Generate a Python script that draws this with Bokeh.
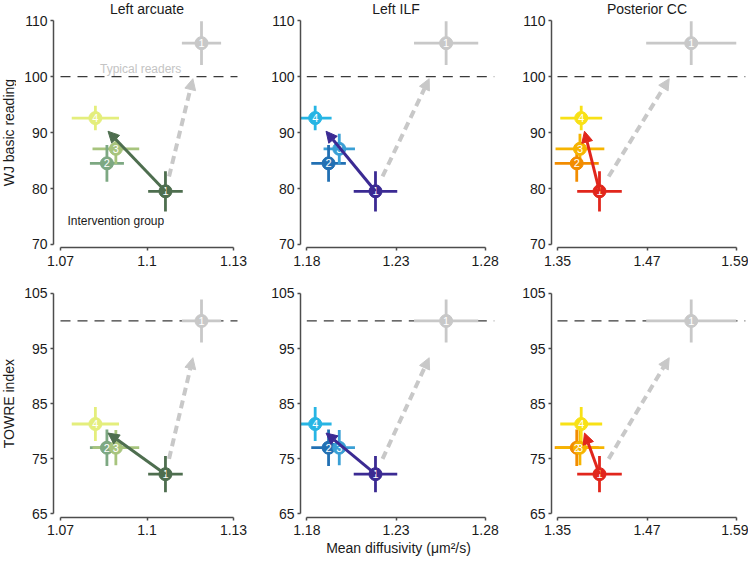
from bokeh.plotting import figure
from bokeh.layouts import column, row
from bokeh.models import Range1d, FixedTicker, Arrow, NormalHead, Label, ColumnDataSource
from bokeh.core.properties import value
from bokeh.embed import file_html
from bokeh.resources import INLINE

# ---------------- data ----------------
tracts = ["Left arcuate", "Left ILF", "Posterior CC"]
measures = ["WJ basic reading", "TOWRE index"]
sessions = ["1", "2", "3", "4"]

# mean diffusivity per session (intervention group) and its error
md_arcuate = [1.1064, 1.0861, 1.0892, 1.0821]
md_arcuate_err = [0.0060, 0.0059, 0.0081, 0.0082]
md_ilf = [1.2185, 1.1922, 1.1982, 1.1847]
md_ilf_err = [0.0122, 0.0097, 0.0088, 0.0092]
md_cc = [1.4063, 1.3758, 1.3801, 1.3818]
md_cc_err = [0.0299, 0.0295, 0.0327, 0.0281]

# typical readers (session 1)
typical_md = [1.1189, 1.2581, 1.5293]
typical_md_err = [0.0068, 0.0180, 0.0604]

# reading scores per session
wj = [79.5, 84.5, 87.1, 92.6]
wj_err = [3.6, 3.3, 2.7, 2.2]
towre = [72.2, 77.0, 77.0, 81.3]
towre_err = [3.3, 3.3, 3.2, 3.1]
typical_score = [106.0, 100.0]
typical_score_err = [3.9, 3.9]
norm_score = 100

x_ticks = [[1.07, 1.10, 1.13], [1.18, 1.23, 1.28], [1.35, 1.47, 1.59]]
x_tick_labels = [["1.07", "1.1", "1.13"], ["1.18", "1.23", "1.28"], ["1.35", "1.47", "1.59"]]
y_ticks = [[70, 80, 90, 100, 110], [65, 75, 85, 95, 105]]

md_vals = [md_arcuate, md_ilf, md_cc]
md_errs = [md_arcuate_err, md_ilf_err, md_cc_err]
scores = [wj, towre]
score_errs = [wj_err, towre_err]

# ---------------- style ----------------
colors = [
    ["#4e6e4f", "#7da882", "#a7c47d", "#e4ee7c"],
    ["#3b2a93", "#2270b3", "#3a9fd5", "#27b5e4"],
    ["#e1261c", "#f28c00", "#f6b400", "#f8e116"],
]
typical_color = "#c8c8c8"
FONT = "Liberation Sans"
FONT_VALUE = value(FONT)
axis_color = "#4d4d4d"
text_color = "#1a1a1a"

# layout in screenshot pixels
label_canvas_x = (2, 18)
ylabel_center_x = 10
canvas_x = [(18, 256), (256, 504), (504, 750)]
frame_x = [(55, 240), (302, 498), (553, 749)]
x_anchor = [(1.07, 62.0, 1.13, 235.0), (1.18, 308.3, 1.28, 486.7), (1.35, 559.0, 1.59, 738.0)]
canvas_y = [(1, 272), (272, 559)]
frame_y = [(1, 248), (272, 519)]
y_anchor = [(110, 21.3, 80, 189.0), (105, 294.0, 75, 460.0)]


def x_range_for(c):
    v0, p0, v1, p1 = x_anchor[c]
    s = (p1 - p0) / (v1 - v0)
    lo, hi = frame_x[c]
    return v0 - (p0 - lo) / s, v1 + (hi - p1) / s


def y_range_for(r):
    vt, pt, vb, pb = y_anchor[r]
    s = (pb - pt) / (vt - vb)
    top, bot = frame_y[r]
    return vb - (bot - pb) / s, vt + (pt - top) / s


def make_ylabel(r):
    ys, ye = y_range_for(r)
    lx0, lx1 = label_canvas_x
    cy0, cy1 = canvas_y[r]
    fy0, fy1 = frame_y[r]
    p = figure(width=lx1 - lx0, height=cy1 - cy0,
               x_range=Range1d(0, lx1 - lx0), y_range=Range1d(ys, ye),
               x_axis_location=None, y_axis_location=None,
               output_backend="svg", toolbar_location=None,
               min_border_left=0, min_border_right=0,
               min_border_top=fy0 - cy0, min_border_bottom=cy1 - fy1)
    p.outline_line_color = None
    p.xgrid.visible = False
    p.ygrid.visible = False
    p.add_layout(Label(x=ylabel_center_x - lx0, y=(y_ticks[r][0] + y_ticks[r][-1]) / 2,
                       text=measures[r], angle=90, angle_units="deg",
                       text_align="center", text_baseline="middle",
                       text_font=FONT, text_font_size="14px", text_color=text_color))
    return p


def make_panel(r, c):
    xs, xe = x_range_for(c)
    ys, ye = y_range_for(r)
    cx0, cx1 = canvas_x[c]
    cy0, cy1 = canvas_y[r]
    fx0, fx1 = frame_x[c]
    fy0, fy1 = frame_y[r]
    p = figure(width=cx1 - cx0, height=cy1 - cy0,
               x_range=Range1d(xs, xe), y_range=Range1d(ys, ye),
               output_backend="svg", toolbar_location=None,
               min_border_left=fx0 - cx0, min_border_right=cx1 - fx1,
               min_border_top=fy0 - cy0, min_border_bottom=cy1 - fy1)
    p.outline_line_color = None
    p.xgrid.visible = False
    p.ygrid.visible = False
    p.background_fill_color = "white"
    p.border_fill_color = "white"

    for ax, ticks in ((p.xaxis[0], x_ticks[c]), (p.yaxis[0], y_ticks[r])):
        ax.ticker = FixedTicker(ticks=ticks)
        ax.bounds = (ticks[0], ticks[-1])
        ax.axis_line_color = axis_color
        ax.axis_line_width = 1.5
        ax.major_tick_line_color = axis_color
        ax.major_tick_line_width = 1.5
        ax.major_tick_out = 3
        ax.major_tick_in = 0
        ax.minor_tick_out = 0
        ax.minor_tick_in = 0
        ax.major_label_text_font = FONT
        ax.major_label_text_font_size = "14px"
        ax.major_label_text_color = text_color
        ax.axis_label_text_font = FONT
        ax.axis_label_text_font_size = "14px"
        ax.axis_label_text_font_style = "normal"
        ax.axis_label_text_color = text_color
    p.xaxis[0].major_label_overrides = {t: l for t, l in zip(x_ticks[c], x_tick_labels[c])}
    p.xaxis[0].major_label_standoff = 5 if r == 0 else 4
    p.xaxis[0].axis_label_standoff = 2
    p.yaxis[0].major_label_standoff = 3
    if r == 1 and c == 1:
        p.xaxis[0].axis_label = "Mean diffusivity (\u03bcm\u00b2/s)"

    # typical readers reference line
    p.segment(x0=[x_ticks[c][0]], x1=[xe - (xe - x_ticks[c][-1]) * 0.2], y0=[norm_score], y1=[norm_score],
              line_color="#3a3a3a", line_width=1.3, line_dash="10 7")

    # typical readers point
    gx, gxe = typical_md[c], typical_md_err[c]
    gy, gye = typical_score[r], typical_score_err[r]
    p.segment(x0=[gx - gxe, gx], x1=[gx + gxe, gx], y0=[gy, gy - gye], y1=[gy, gy + gye],
              line_color=typical_color, line_width=2.8)
    p.scatter(x=[gx], y=[gy], size=13, marker="circle", fill_color=typical_color, line_color=typical_color)
    p.text(x=[gx], y=[gy], text=["1"], text_color="white", text_font=FONT_VALUE,
           text_font_size="11px", text_align="center", text_baseline="middle")

    # intervention group sessions
    xv, xerr = md_vals[c], md_errs[c]
    yv, yerr = scores[r], score_errs[r]
    src = ColumnDataSource(dict(
        x=xv, y=yv, xl=[a - e for a, e in zip(xv, xerr)], xh=[a + e for a, e in zip(xv, xerr)],
        yl=[a - e for a, e in zip(yv, yerr)], yh=[a + e for a, e in zip(yv, yerr)],
        col=colors[c], lab=sessions))
    p.segment(x0="xl", x1="xh", y0="y", y1="y", source=src, line_color="col", line_width=2.8)
    p.segment(x0="x", x1="x", y0="yl", y1="yh", source=src, line_color="col", line_width=2.8)
    p.scatter(x="x", y="y", source=src, size=13, marker="circle", fill_color="col", line_color="col")
    p.text(x="x", y="y", text="lab", source=src, text_color="white", text_font=FONT_VALUE,
           text_font_size="11px", text_align="center", text_baseline="middle")

    # change arrow session 1 -> session 4
    t = 0.82
    c1 = colors[c][0]
    p.add_layout(Arrow(end=NormalHead(size=11, fill_color=c1, line_color=c1),
                       x_start=xv[0], y_start=yv[0],
                       x_end=xv[0] + t * (xv[3] - xv[0]), y_end=yv[0] + t * (yv[3] - yv[0]),
                       line_color=c1, line_width=3))
    # dashed arrow toward typical readers
    t0, t1 = 0.1, 0.76
    p.add_layout(Arrow(end=NormalHead(size=11, fill_color=typical_color, line_color=typical_color),
                       x_start=xv[0] + t0 * (gx - xv[0]), y_start=yv[0] + t0 * (gy - yv[0]),
                       x_end=xv[0] + t1 * (gx - xv[0]), y_end=yv[0] + t1 * (gy - yv[0]),
                       line_color=typical_color, line_width=4, line_dash="8 5"))

    if r == 0:
        p.add_layout(Label(x=x_ticks[c][1], y=ye, text=tracts[c], text_align="center",
                           text_baseline="top", text_font=FONT, text_font_size="14px",
                           text_color=text_color))
    if r == 0 and c == 0:
        p.add_layout(Label(x=1.0978, y=100.2, text="Typical readers", text_align="center",
                           text_baseline="bottom", text_font=FONT, text_font_size="12px",
                           text_color="#c4c4c4"))
        p.add_layout(Label(x=1.0724, y=74.15, text="Intervention group", text_align="left",
                           text_baseline="middle", text_font=FONT, text_font_size="12px",
                           text_color=text_color))
    return p


rows = [row(make_ylabel(r), *[make_panel(r, c) for c in range(3)]) for r in range(2)]
layout = column(*rows)
open("out.html", "w").write(file_html(layout, INLINE))
